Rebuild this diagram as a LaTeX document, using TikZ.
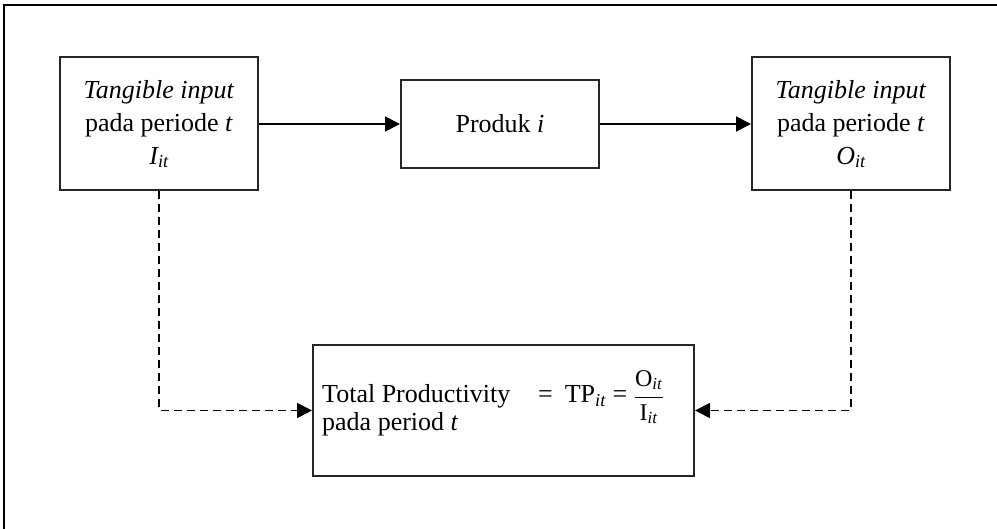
\documentclass[tikz,border=0pt]{standalone}
\usepackage{fontspec}
\setmainfont{Liberation Serif}
\usetikzlibrary{arrows.meta}
\begin{document}
\begin{tikzpicture}[x=1pt,y=-1pt,
  box/.style={draw=black!85, line width=2pt, fill=white, minimum width=198pt, minimum height=133pt,
    inner sep=0pt, align=center, font=\fontsize{26}{33}\selectfont},
  txt/.style={inner sep=0pt, anchor=base west, font=\fontsize{26}{28}\selectfont},
  arr/.style={line width=1.8pt, -{Triangle[length=15pt,width=15pt]}},
  dsh/.style={line width=1.8pt, dash pattern=on 8pt off 5pt, -{Triangle[length=15pt,width=15pt]}},
  frame/.style={line width=2.6pt, line cap=rect}]
\useasboundingbox (0,0) rectangle (997,529);
\draw[frame] (4,529) -- (4,5) -- (997,5);
\node[box] (L) at (159,124) {\textit{Tangible input}\\pada periode \textit{t}\\\textit{I\textsubscript{it}}};
\node[box, minimum height=88pt] (P) at (500,124) {Produk \textit{i}};
\node[box] (R) at (851,124) {\textit{Tangible input}\\pada periode \textit{t}\\\textit{O\textsubscript{it}}};
\node[box, minimum width=381pt, minimum height=131pt] (B) at (503.5,410.5) {};
\node[txt] (t1) at (322,403) {Total Productivity};
\node[txt] (t2) at (322,431) {pada period \textit{t}};
\node[txt] (eq) at (538,403) {=\hspace{12pt}TP\textsubscript{\textit{it}} = $\displaystyle\frac{\mbox{\fontsize{24}{26}\selectfont O\textsubscript{\textit{it}}}}{\mbox{\fontsize{24}{26}\selectfont I\textsubscript{\textit{it}}}}$};
\draw[arr] (L.east) -- (P.west);
\draw[arr] (P.east) -- (R.west);
\draw[dsh] (L.south) |- (B.west);
\draw[dsh] (R.south) |- (B.east);
\end{tikzpicture}
\end{document}
